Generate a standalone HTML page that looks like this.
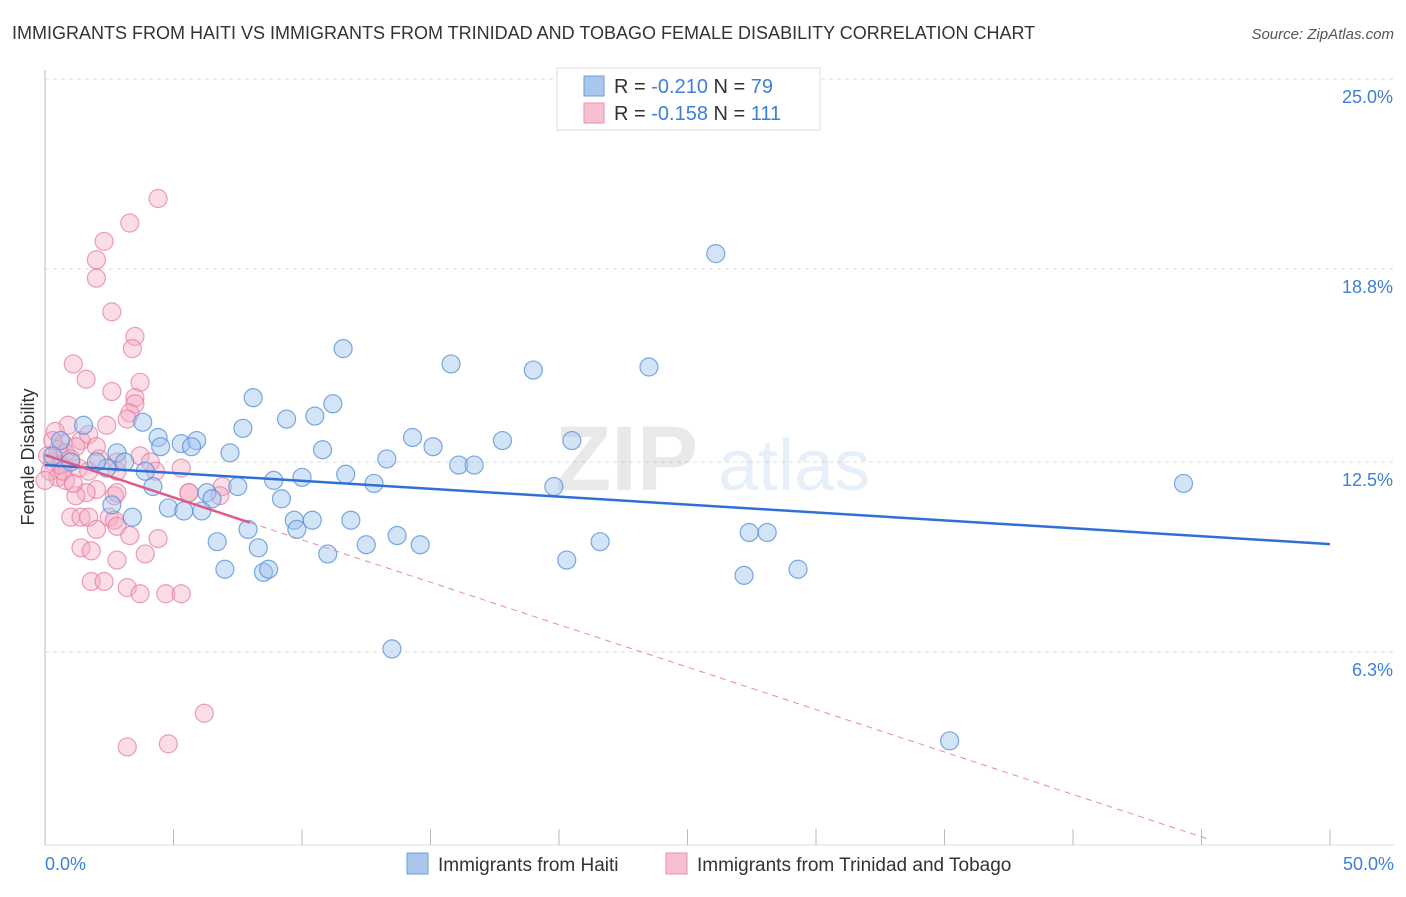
<!DOCTYPE html>
<html><head><meta charset="utf-8"><style>
body{margin:0;background:#fff;font-family:"Liberation Sans",sans-serif;}
svg text{font-family:"Liberation Sans",sans-serif;}
</style></head><body>
<svg id="chart" width="1406" height="892" xmlns="http://www.w3.org/2000/svg">
<text x="12" y="39" font-size="18" fill="#333">IMMIGRANTS FROM HAITI VS IMMIGRANTS FROM TRINIDAD AND TOBAGO FEMALE DISABILITY CORRELATION CHART</text>
<text x="1394" y="39" font-size="15" fill="#555" text-anchor="end" font-style="italic">Source: ZipAtlas.com</text>
<g id="grid"></g>
<g opacity="0.12">
<text x="555" y="490" font-size="92" font-family="Liberation Serif" fill="#555" font-weight="bold">ZIP</text>
<text x="718" y="490" font-size="72" fill="#3d7fd9">atlas</text>
</g>
<g id="points"></g>
<g id="lines"></g>
<text transform="translate(34,457) rotate(-90)" font-size="18" fill="#333" text-anchor="middle">Female Disability</text>
<g>
<rect x="557" y="68" width="263" height="62" fill="#fff" stroke="#ddd"/>
<rect x="584" y="76" width="20" height="20" fill="#a9c6ee" stroke="#6b9ee0"/>
<text x="614" y="93" font-size="20" fill="#333">R = <tspan fill="#3d7fd9">-0.210</tspan>   N = <tspan fill="#3d7fd9">79</tspan></text>
<rect x="584" y="103" width="20" height="20" fill="#f7bfd0" stroke="#e891ac"/>
<text x="614" y="120" font-size="20" fill="#333">R = <tspan fill="#3d7fd9">-0.158</tspan>   N = <tspan fill="#3d7fd9">111</tspan></text>
</g>
<g>
<rect x="407" y="853" width="21" height="21" fill="#a9c6ee" stroke="#6b9ee0"/>
<text x="438" y="871" font-size="19" fill="#333">Immigrants from Haiti</text>
</g>
<g>
<rect x="666" y="853" width="21" height="21" fill="#f7bfd0" stroke="#e891ac"/>
<text x="697" y="871" font-size="19" fill="#333">Immigrants from Trinidad and Tobago</text>
</g>
</svg>
<script>
const yTicks=[25.0,18.8,12.5,6.3];
const yTickLabels=["25.0%","18.8%","12.5%","6.3%"];
const xTickLabels=["0.0%","50.0%"];
const haitiX=[26.1,11.6,15.8,19.0,23.5,8.1,11.2,7.7,9.4,10.5,1.5,3.8,4.4,5.3,5.9,5.7,4.5,7.2,10.8,14.3,15.1,17.8,20.5,13.3,16.1,16.7,11.7,12.8,19.8,44.3,8.9,10.0,7.5,6.3,6.5,9.2,4.2,3.9,2.8,3.1,2.4,2.0,4.8,5.4,6.1,3.4,7.9,9.7,10.4,11.9,9.8,6.7,8.3,11.0,12.5,13.7,14.6,21.6,27.4,28.1,20.3,7.0,8.5,8.7,27.2,29.3,13.5,35.2,2.6,0.6,1.0,0.3];
const haitiY=[19.3,16.2,15.7,15.5,15.6,14.6,14.4,13.6,13.9,14.0,13.7,13.8,13.3,13.1,13.2,13.0,13.0,12.8,12.9,13.3,13.0,13.2,13.2,12.6,12.4,12.4,12.1,11.8,11.7,11.8,11.9,12.0,11.7,11.5,11.3,11.3,11.7,12.2,12.8,12.5,12.3,12.5,11.0,10.9,10.9,10.7,10.3,10.6,10.6,10.6,10.3,9.9,9.7,9.5,9.8,10.1,9.8,9.9,10.2,10.2,9.3,9.0,8.9,9.0,8.8,9.0,6.4,3.4,11.1,13.2,12.5,12.7];
const ttX=[4.4,3.3,2.3,2.0,2.0,2.6,3.5,3.4,1.1,1.6,3.7,2.6,3.5,3.5,3.3,3.2,2.4,0.9,0.4,1.4,0.7,0.3,0.5,0.8,1.2,1.7,2.0,1.3,0.5,0.8,1.7,2.8,2.8,3.7,4.1,5.3,5.6,6.9,5.6,6.8,2.7,2.8,2.0,1.6,1.2,1.0,1.4,1.7,2.0,2.5,2.7,2.8,1.4,1.8,2.8,3.3,3.9,4.4,1.8,2.3,3.2,3.7,4.7,5.3,6.2,3.2,4.8,0.2,0.1,0.3,0.6,1.0,0.0,0.7,1.1,2.1,4.3];
const ttY=[21.1,20.3,19.7,19.1,18.5,17.4,16.6,16.2,15.7,15.2,15.1,14.8,14.6,14.4,14.1,13.9,13.7,13.7,13.5,13.2,13.1,12.5,12.9,12.8,13.0,13.4,13.0,12.3,12.0,11.9,12.2,12.5,12.2,12.7,12.5,12.3,11.5,11.7,11.5,11.4,11.4,11.5,11.6,11.5,11.4,10.7,10.7,10.7,10.3,10.7,10.6,10.4,9.7,9.6,9.3,10.1,9.5,10.0,8.6,8.6,8.4,8.2,8.2,8.2,4.3,3.2,3.3,12.2,12.7,13.2,12.4,12.6,11.9,12.2,11.8,12.6,12.2];
const haitiTrend=[12.40,9.82];
const ttTrend=[12.73,-0.277];
const ttSolidEnd=7.98, ttDashEnd=45.33;

const NS="http://www.w3.org/2000/svg";
const X0=45,X1=1330,YB=845,YT=79;
const xs=v=>X0+(v/50)*(X1-X0);
const ys=v=>YB-(v/25)*(YB-YT);
function mk(tag,attrs,parent){const e=document.createElementNS(NS,tag);for(const k in attrs)e.setAttribute(k,attrs[k]);parent.appendChild(e);return e;}
const grid=document.getElementById('grid');
yTicks.forEach((t,i)=>{
  const l=mk('line',{x1:X0,x2:1394,y1:ys(t),y2:ys(t),stroke:'#ddd','stroke-dasharray':'4,4'},grid);
  
  
  const tx=mk('text',{x:1393,y:ys(t)+24,'font-size':18,fill:'#3d7fd9','text-anchor':'end'},grid);
  tx.textContent=yTickLabels[i];
  
  
});
const ax=mk('line',{x1:X0,x2:X0,y1:70,y2:YB,stroke:'#bbb'},grid);


const bx=mk('line',{x1:X0,x2:1394,y1:YB,y2:YB,stroke:'#ddd'},grid);


for(let i=0;i<=10;i++){
  const t=mk('line',{x1:xs(i*5),x2:xs(i*5),y1:829,y2:YB,stroke:'#bbb'},grid);
  
  
}
[[0,'start',X0],[1,'end',1394]].forEach(([i,a,x])=>{
  const t=mk('text',{x:x,y:870,'font-size':18,fill:'#3d7fd9','text-anchor':a},grid);
  t.textContent=xTickLabels[i];
  
  
});
const pts=document.getElementById('points');
ttX.forEach((x,i)=>{
  const c=mk('circle',{cx:xs(x),cy:ys(ttY[i]),r:9,fill:'rgba(245,170,195,0.4)',stroke:'rgba(228,120,155,0.7)','stroke-width':1.2},pts);
  
  
});
haitiX.forEach((x,i)=>{
  const c=mk('circle',{cx:xs(x),cy:ys(haitiY[i]),r:9,fill:'rgba(160,195,238,0.45)',stroke:'rgba(80,140,220,0.75)','stroke-width':1.2},pts);
  
  
});
const lines=document.getElementById('lines');
const hl=mk('line',{x1:xs(0),y1:ys(haitiTrend[0]),x2:xs(50),y2:ys(haitiTrend[1]),stroke:'#2f6fd6','stroke-width':2.5},lines);


const tf=x=>ttTrend[0]+ttTrend[1]*x;
const tl=mk('line',{x1:xs(0),y1:ys(tf(0)),x2:xs(ttSolidEnd),y2:ys(tf(ttSolidEnd)),stroke:'#e05a88','stroke-width':2.5},lines);


const td=mk('line',{x1:xs(ttSolidEnd),y1:ys(tf(ttSolidEnd)),x2:xs(ttDashEnd),y2:ys(tf(ttDashEnd)),stroke:'#e88aa8','stroke-width':1,'stroke-dasharray':'6,5'},lines);


</script>
</body></html>
